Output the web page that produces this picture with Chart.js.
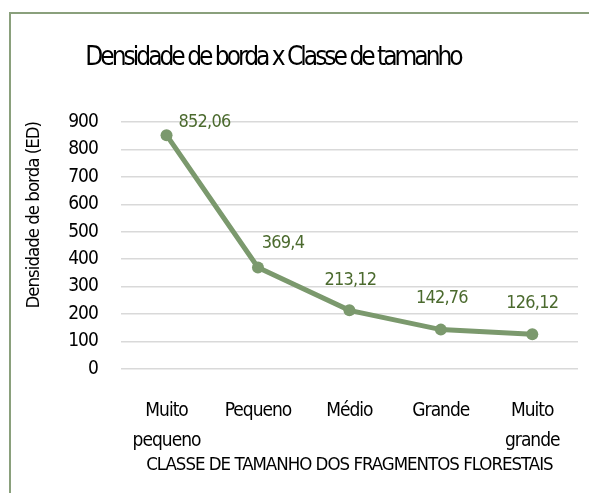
<!DOCTYPE html>
<html>
<head>
<meta charset="utf-8">
<script src="https://cdn.jsdelivr.net/npm/chart.js@4/dist/chart.umd.min.js"></script>
<style>
  html, body { margin: 0; padding: 0; background: #fff; }
  #wrap { position: relative; width: 589px; height: 493px; overflow: hidden; }
  #frame { position: absolute; left: 9px; top: 12px; width: 620px; height: 520px;
           border-left: 2px solid #8aa07c; border-top: 2px solid #8aa07c; }
  canvas { position: absolute; left: 0; top: 0; }
</style>
</head>
<body>
<div id="wrap">
  <div id="frame"></div>
  <canvas id="myChart" width="589" height="493"></canvas>
</div>
<script>
// data
const categories = [["Muito", "pequeno"], "Pequeno", "Médio", "Grande", ["Muito", "grande"]];
const densidade = [852.06, 369.4, 213.12, 142.76, 126.12];
const yTicks = [0, 100, 200, 300, 400, 500, 600, 700, 800, 900];

const chartTitle = "Densidade de borda x Classe de tamanho";
const xTitle = "CLASSE DE TAMANHO DOS FRAGMENTOS FLORESTAIS";
const yTitle = "Densidade de borda (ED)";

const FONT = "'DejaVu Sans Condensed', 'Liberation Sans Narrow', sans-serif";
const lineColor = "#7b996d";
const labelColor = "#4b6a2e";

// label offsets relative to each point (Excel nudged these around)
const labelOffsets = [
  { dx: 12, dy: -13, align: "left" },
  { dx: 25, dy: -24, align: "center" },
  { dx: 1, dy: -30, align: "center" },
  { dx: 1, dy: -31, align: "center" },
  { dx: 0, dy: -31, align: "center" },
];

// tighter letters for everything Chart.js draws (the original font is a narrow DIN)
const tightText = {
  id: "tightText",
  beforeLayout(chart) {
    chart.ctx.letterSpacing = "-1px";
  },
  beforeDraw(chart) {
    chart.ctx.letterSpacing = "-1px";
  },
};

const labelsPlugin = {
  id: "pointLabels",
  afterDatasetsDraw(chart) {
    const ctx = chart.ctx;
    const meta = chart.getDatasetMeta(0);
    ctx.save();
    ctx.font = "18px " + FONT;
    ctx.letterSpacing = "-0.8px";
    ctx.fillStyle = labelColor;
    ctx.textBaseline = "middle";
    meta.data.forEach((pt, i) => {
      const o = labelOffsets[i];
      ctx.textAlign = o.align;
      ctx.fillText(String(densidade[i]).replace(".", ","), pt.x + o.dx, pt.y + o.dy);
    });
    ctx.restore();
  },
};

const titlePlugin = {
  id: "bigTitle",
  afterDraw(chart) {
    const ctx = chart.ctx;
    ctx.save();
    ctx.font = "26px " + FONT;
    ctx.letterSpacing = "-3px";
    ctx.fillStyle = "#000";
    ctx.textAlign = "center";
    ctx.textBaseline = "middle";
    ctx.fillText(chartTitle, 273, 58);
    ctx.restore();
  },
};

const ctx = document.getElementById("myChart");
new Chart(ctx, {
  type: "line",
  data: {
    labels: categories,
    datasets: [
      {
        label: "ED",
        data: densidade,
        borderColor: lineColor,
        backgroundColor: lineColor,
        borderWidth: 5,
        pointRadius: 6,
        pointBackgroundColor: lineColor,
        pointBorderWidth: 0,
        tension: 0,
      },
    ],
  },
  options: {
    responsive: false,
    animation: false,
    layout: { padding: { top: 122, left: 10, right: 11, bottom: 17 } },
    plugins: {
      legend: { display: false },
      tooltip: { enabled: false },
    },
    scales: {
      x: {
        offset: true,
        grid: { display: false, drawTicks: false },
        border: { display: false },
        ticks: {
          color: "#000",
          font: { family: FONT, size: 19, lineHeight: 1.58 },
          padding: 27,
          maxRotation: 0,
          autoSkip: false,
        },
        title: {
          display: true,
          text: xTitle,
          color: "#000",
          font: { family: FONT, size: 18.5 },
          padding: { top: -29, bottom: 0 },
        },
      },
      y: {
        min: 0,
        max: 900,
        afterBuildTicks(axis) {
          axis.ticks = yTicks.map((v) => ({ value: v }));
        },
        grid: { color: "#d9d9d9", lineWidth: 1.5, drawTicks: false },
        border: { display: false },
        ticks: {
          color: "#000",
          font: { family: FONT, size: 19 },
          padding: 23,
        },
        title: {
          display: true,
          text: yTitle,
          align: "end",
          color: "#000",
          font: { family: FONT, size: 18.5 },
          padding: { top: 13, bottom: 0 },
        },
      },
    },
  },
  plugins: [tightText, labelsPlugin, titlePlugin],
});
</script>
</body>
</html>
